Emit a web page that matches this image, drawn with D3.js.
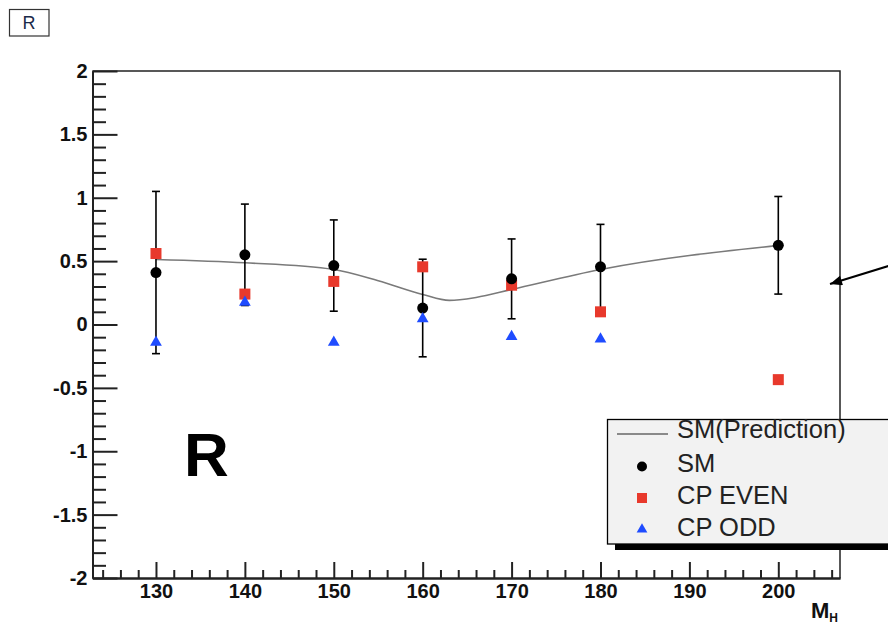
<!DOCTYPE html>
<html>
<head>
<meta charset="utf-8">
<script src="https://cdn.jsdelivr.net/npm/d3@7"></script>
<style>
  html, body { margin: 0; padding: 0; background: #fff; }
  svg { display: block; font-family: "Liberation Sans", Arial, Helvetica, sans-serif; }
</style>
</head>
<body>
<svg id="chart" width="888" height="627"></svg>
<script>
// Higgs mass points and measured ratio R
const masses = [130, 140, 150, 160, 170, 180, 200];
const smValues = [0.41, 0.55, 0.465, 0.13, 0.36, 0.455, 0.625];
const smErrors = [0.64, 0.40, 0.36, 0.385, 0.315, 0.335, 0.385];
const cpEvenValues = [0.56, 0.24, 0.34, 0.455, 0.31, 0.10, -0.435];
const cpOddMasses = [130, 140, 150, 160, 170, 180];
const cpOddValues = [-0.14, 0.175, -0.14, 0.045, -0.095, -0.115];

// SM prediction curve
const predictionMasses = [130, 140, 150, 155, 160, 163, 166, 170, 180, 200];
const predictionValues = [0.513, 0.487, 0.434, 0.345, 0.237, 0.19, 0.213, 0.276, 0.434, 0.623];

// Axis ticks and labels
const xMajorTicks = [130, 140, 150, 160, 170, 180, 190, 200];
const xMinorTicks = d3.range(124, 207, 2).filter(v => v % 10 !== 0);
const yMajorTicks = [-2, -1.5, -1, -0.5, 0, 0.5, 1, 1.5, 2];
const yTickLabels = ["-2", "-1.5", "-1", "-0.5", "0", "0.5", "1", "1.5", "2"];
const yMinorTicks = d3.range(-20, 21).map(v => v / 10).filter(v => Math.abs(v * 2 - Math.round(v * 2)) > 1e-6);

const legendEntries = ["SM(Prediction)", "SM", "CP EVEN", "CP ODD"];

const svg = d3.select("#chart");
const plotLeft = 92.5, plotRight = 840, plotTop = 71, plotBottom = 578;

const x = d3.scaleLinear().domain([122.86, 206.94]).range([plotLeft, plotRight]);
const y = d3.scaleLinear().domain([-2, 2]).range([plotBottom, plotTop]);

const RED = "#e8392c", BLUE = "#1f4cff", AXIS = "#222";

// Frame (top and right)
svg.append("path")
  .attr("d", `M${plotLeft},${plotTop}H${plotRight}V${plotBottom}`)
  .attr("fill", "none").attr("stroke", AXIS).attr("stroke-width", 1.5);

// Y axis: major and minor ticks pointing inward
const yAxisMajor = d3.axisLeft(y).tickValues(yMajorTicks)
  .tickSizeInner(-25).tickSizeOuter(0).tickPadding(5)
  .tickFormat((d, i) => yTickLabels[i]);
svg.append("g").attr("transform", `translate(${plotLeft},0)`).call(yAxisMajor);
svg.append("g").attr("transform", `translate(${plotLeft},0)`)
  .call(d3.axisLeft(y).tickValues(yMinorTicks).tickSizeInner(-13.5).tickSizeOuter(0).tickFormat(""));

// X axis
svg.append("g").attr("transform", `translate(0,${plotBottom})`)
  .call(d3.axisBottom(x).tickValues(xMajorTicks).tickSizeInner(-16).tickSizeOuter(0).tickPadding(6));
svg.append("g").attr("transform", `translate(0,${plotBottom})`)
  .call(d3.axisBottom(x).tickValues(xMinorTicks).tickSizeInner(-8).tickSizeOuter(0).tickFormat(""));

svg.selectAll(".domain").attr("stroke", AXIS).attr("stroke-width", 2);
svg.selectAll(".tick line").attr("stroke", AXIS).attr("stroke-width", 2);
svg.selectAll(".tick text")
  .attr("font-family", "'Liberation Sans', Arial, sans-serif")
  .attr("font-size", 20).attr("font-weight", "bold").attr("fill", "#111");

// X axis title M_H
const xt = svg.append("text").attr("x", 811).attr("y", 618)
  .attr("font-size", 22).attr("font-weight", "bold").attr("fill", "#111");
xt.append("tspan").text("M");
xt.append("tspan").attr("font-size", 12).attr("dy", 4).text("H");

// Title box
svg.append("rect").attr("x", 9.5).attr("y", 9.5).attr("width", 39.5).attr("height", 26.5)
  .attr("fill", "#fff").attr("stroke", "#333").attr("stroke-width", 1.2);
svg.append("text").attr("x", 29).attr("y", 29).attr("text-anchor", "middle")
  .attr("font-size", 18).attr("fill", "#1a2a4a").text("R");

// Big label
svg.append("text").attr("x", 184).attr("y", 476)
  .attr("font-size", 62).attr("font-weight", "bold").attr("fill", "#000").text("R");

// Prediction curve
const line = d3.line().x(d => x(d[0])).y(d => y(d[1])).curve(d3.curveMonotoneX);
svg.append("path")
  .datum(predictionMasses.map((m, i) => [m, predictionValues[i]]))
  .attr("d", line).attr("fill", "none").attr("stroke", "#7a7a7a").attr("stroke-width", 1.6);

// SM error bars
const sm = masses.map((m, i) => ({ m, v: smValues[i], e: smErrors[i] }));
const eb = svg.append("g").attr("stroke", "#000").attr("stroke-width", 1.6);
sm.forEach(d => {
  eb.append("line").attr("x1", x(d.m)).attr("x2", x(d.m)).attr("y1", y(d.v - d.e)).attr("y2", y(d.v + d.e));
  [d.v - d.e, d.v + d.e].forEach(v => {
    eb.append("line").attr("x1", x(d.m) - 4).attr("x2", x(d.m) + 4).attr("y1", y(v)).attr("y2", y(v));
  });
});

// CP EVEN squares
svg.append("g").selectAll("rect").data(masses.map((m, i) => [m, cpEvenValues[i]]))
  .join("rect")
  .attr("x", d => x(d[0]) - 5.5).attr("y", d => y(d[1]) - 5.5)
  .attr("width", 11).attr("height", 11).attr("fill", RED);

// SM circles
svg.append("g").selectAll("circle").data(sm).join("circle")
  .attr("cx", d => x(d.m)).attr("cy", d => y(d.v)).attr("r", 5.5).attr("fill", "#000");

// CP ODD triangles
const tri = d3.symbol().type(d3.symbolTriangle).size(60);
svg.append("g").selectAll("path").data(cpOddMasses.map((m, i) => [m, cpOddValues[i]]))
  .join("path")
  .attr("transform", d => `translate(${x(d[0])},${y(d[1])})`)
  .attr("d", tri).attr("fill", BLUE);

// Legend
const lg = svg.append("g");
lg.append("rect").attr("x", 615).attr("y", 426).attr("width", 300).attr("height", 124).attr("fill", "#000");
lg.append("rect").attr("x", 607.5).attr("y", 419.5).attr("width", 300).attr("height", 124.5)
  .attr("fill", "#f2f2f2").attr("stroke", "#000").attr("stroke-width", 1.3);
const baselines = [438, 472, 504, 536];
legendEntries.forEach((t, i) => {
  lg.append("text").attr("x", 677).attr("y", baselines[i])
    .attr("font-size", 25.5).attr("fill", "#222").text(t);
});
lg.append("line").attr("x1", 617).attr("x2", 668).attr("y1", 434).attr("y2", 434)
  .attr("stroke", "#222").attr("stroke-width", 1.2);
lg.append("circle").attr("cx", 642).attr("cy", 466.5).attr("r", 5).attr("fill", "#000");
lg.append("rect").attr("x", 637).attr("y", 493).attr("width", 10).attr("height", 10).attr("fill", RED);
lg.append("path").attr("transform", "translate(642,529.5)")
  .attr("d", d3.symbol().type(d3.symbolTriangle).size(50)).attr("fill", BLUE);

// Arrow pointing at the plot edge
svg.append("defs").append("marker")
  .attr("id", "arrowhead").attr("viewBox", "0 0 12 10").attr("refX", 12).attr("refY", 5)
  .attr("markerWidth", 13).attr("markerHeight", 10).attr("markerUnits", "userSpaceOnUse")
  .attr("orient", "auto")
  .append("path").attr("d", "M0,0L12,5L0,10Z").attr("fill", "#000");
svg.append("line").attr("x1", 895).attr("y1", 264).attr("x2", 830).attr("y2", 284)
  .attr("stroke", "#000").attr("stroke-width", 2.2).attr("marker-end", "url(#arrowhead)");
</script>
</body>
</html>
